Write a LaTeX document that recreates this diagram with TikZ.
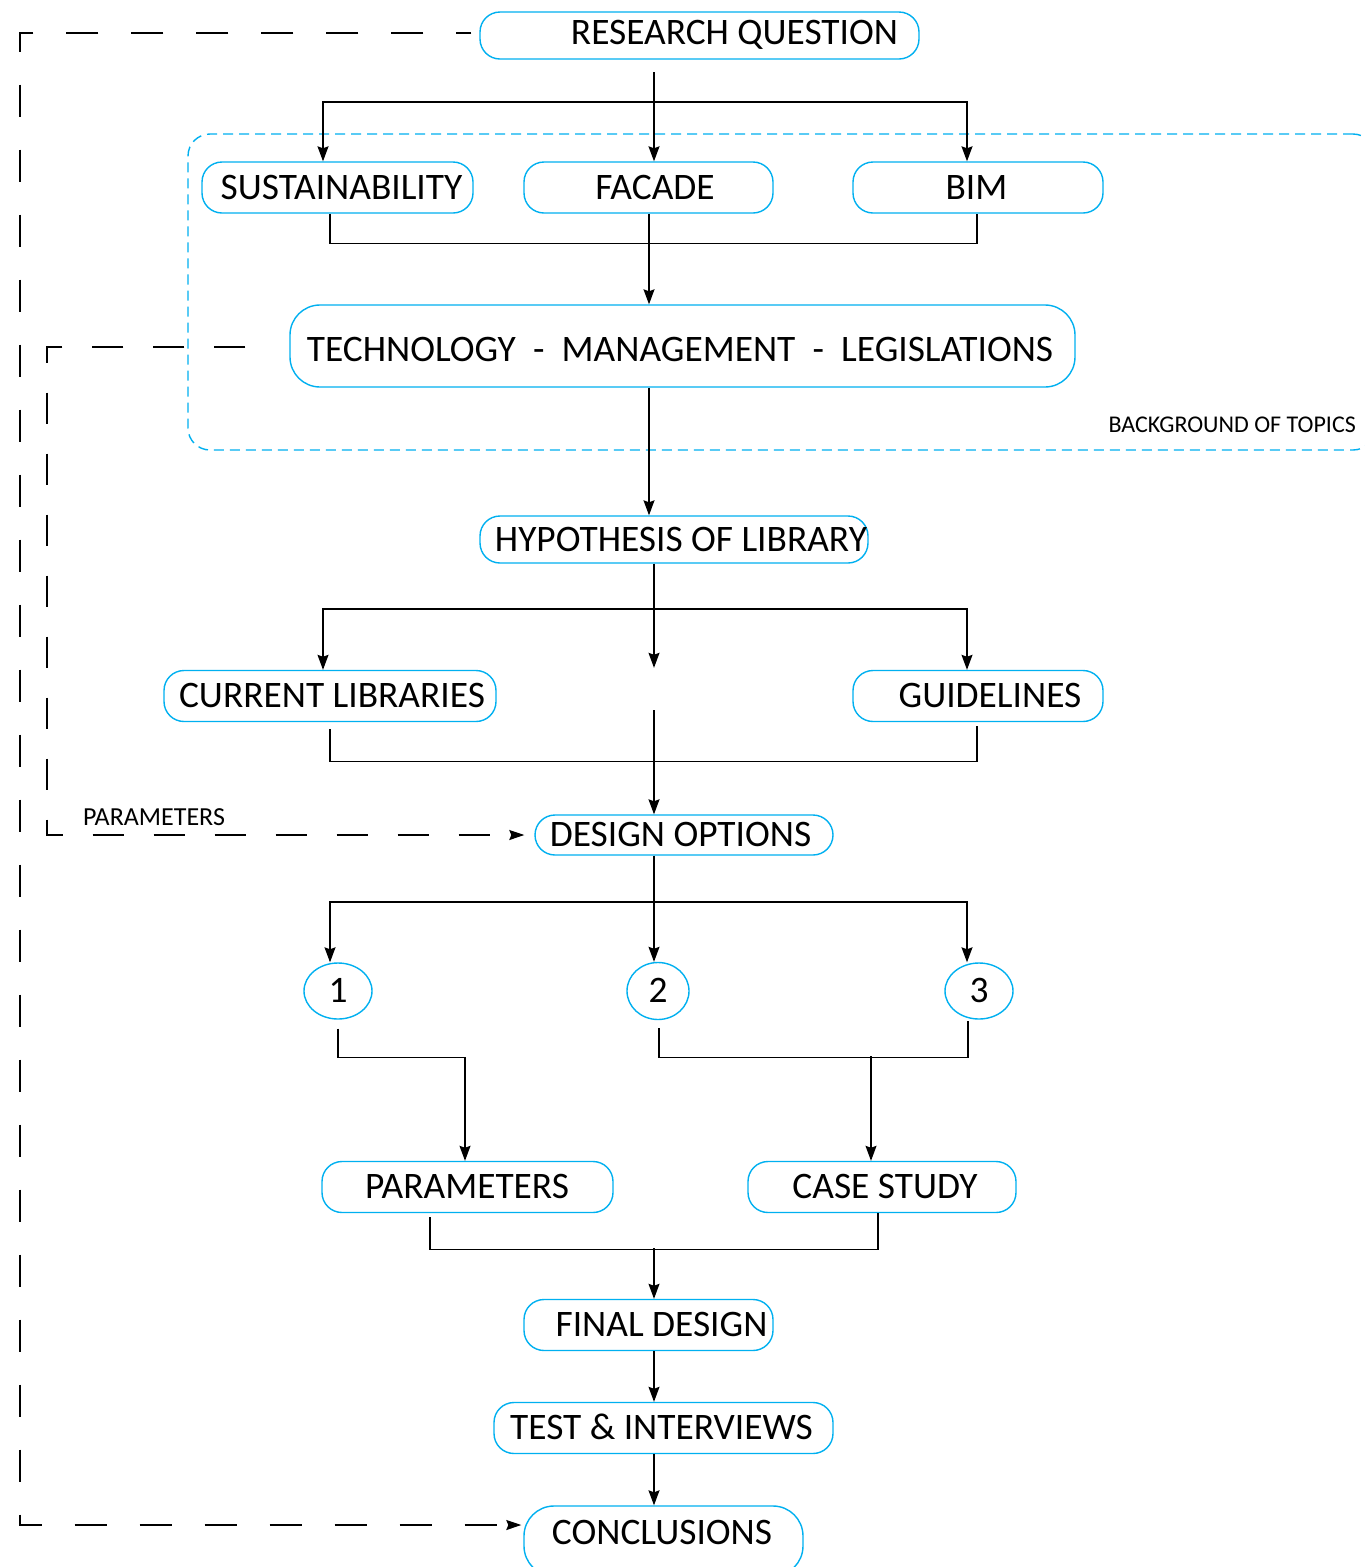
\documentclass[tikz,border=0pt]{standalone}
\usepackage{fontspec}
\setmainfont{Carlito}
\usetikzlibrary{arrows.meta,shapes.geometric,calc}
\definecolor{boxblue}{RGB}{0,176,240}
% label centred in its box, moved right by half of #1 and raised by #2
\newcommand{\offtext}[3]{\makebox[0pt][c]{\hspace*{#1pt}\raisebox{#2pt}{#3}}}
\begin{document}
\begin{tikzpicture}[x=1pt,y=-1pt,
  big/.style={font=\fontsize{37.4}{40}\selectfont, text height=23.5pt, text depth=0pt},
  box/.style={big, draw=boxblue, line width=1.4pt, rounded corners=20pt, inner sep=0pt},
  num/.style={big, draw=boxblue, ellipse, line width=1.4pt, inner sep=0pt},
  link/.style={line width=1.3pt, draw=black},
  arr/.style={link, -{Stealth[length=15pt,width=11pt,inset=2pt]}},
  loop/.style={line width=1.5pt, -{Stealth[length=15pt,width=10pt,inset=2pt]}},
  note/.style={inner sep=0pt}
]
\fill[white] (0,0) rectangle (1365,1567);
\useasboundingbox (0,0) rectangle (1365,1567);

% frame around the topic boxes
\node[draw=boxblue, line width=1.4pt, dash pattern=on 10pt off 6pt, rounded corners=22pt,
      minimum width=1187pt, minimum height=316pt, inner sep=0pt] (topics) at (781.5,292) {};
\node[note, font=\fontsize{24}{26}\selectfont, anchor=base east] (bglbl) at (1356,432) {BACKGROUND OF TOPICS};

% boxes
\node[box, minimum width=439pt, minimum height=47pt] (rq)  at (699.5,35.5) {\offtext{70}{3}{RESEARCH QUESTION}};
\node[box, minimum width=271pt, minimum height=51pt] (sus) at (337.5,187.5) {\offtext{8}{0}{SUSTAINABILITY}};
\node[box, minimum width=249pt, minimum height=51pt] (fac) at (648.5,187.5) {\offtext{13}{0}{FACADE}};
\node[box, minimum width=250pt, minimum height=51pt] (bim) at (978,187.5) {\offtext{-3}{0}{BIM}};
\node[box, rounded corners=30pt, minimum width=785pt, minimum height=82pt] (tech) at (682.5,346)
     {\offtext{-5}{-4}{TECHNOLOGY\hspace{0.46em}-\hspace{0.46em}MANAGEMENT\hspace{0.46em}-\hspace{0.46em}LEGISLATIONS}};
\node[box, minimum width=388pt, minimum height=47pt] (hyp) at (674,539.5) {\offtext{14}{0}{HYPOTHESIS OF LIBRARY}};
\node[box, minimum width=332pt, minimum height=51pt] (cur) at (330,696) {\offtext{4}{0}{CURRENT LIBRARIES}};
\node[box, minimum width=250pt, minimum height=51pt] (gui) at (978,696) {\offtext{24}{0}{GUIDELINES}};
\node[minimum width=2pt, minimum height=42pt, inner sep=0pt] (gap) at (654,689) {};
\node[box, minimum width=298pt, minimum height=40pt] (des) at (684,835) {\offtext{-7}{0}{DESIGN OPTIONS}};
\node[num, minimum width=68pt, minimum height=56pt] (n1) at (338,991) {1};
\node[num, minimum width=62pt, minimum height=57pt] (n2) at (658,991) {2};
\node[num, minimum width=68pt, minimum height=56pt] (n3) at (979,991) {3};
\node[box, minimum width=291pt, minimum height=51pt] (par) at (467.5,1187) {\offtext{-1}{0}{PARAMETERS}};
\node[box, minimum width=268pt, minimum height=51pt] (cas) at (882,1187) {\offtext{6}{0}{CASE STUDY}};
\node[box, minimum width=249pt, minimum height=51pt] (fin) at (648.5,1325) {\offtext{26}{0}{FINAL DESIGN}};
\node[box, minimum width=339pt, minimum height=51pt] (tst) at (663.5,1428) {\offtext{-4}{0}{TEST \& INTERVIEWS}};
\node[box, rounded corners=30pt, minimum width=279pt, minimum height=70pt] (con) at (663.5,1541) {\offtext{-3}{8}{CONCLUSIONS}};

% research question -> topics
\coordinate (rqo) at (654,72);
\coordinate (rqbar) at (654,102);
\draw[arr] (rqo) -- (rqo |- fac.north);
\draw[arr] (rqbar) -| ($(sus.north)+(-14.5,0)$);
\draw[arr] (rqbar) -| ($(bim.north)+(-11,0)$);

% topics -> technology / management / legislations
\draw[link] ($(sus.south)+(-7.5,0)$) -- ++(0,30) -| ($(bim.south)+(-1,0)$);
\coordinate (facb) at ($(fac.south)+(0.5,0)$);
\draw[arr] (facb) -- (facb |- tech.north);

% -> hypothesis
\coordinate (techb) at (tech.south -| facb);
\draw[arr] (techb) -- (techb |- hyp.north);

% hypothesis -> libraries, guidelines
\coordinate (hypb) at (hyp.south -| gap);
\draw[arr] (hypb) -- (gap.north);
\coordinate (hypbar) at (654,609);
\draw[arr] (hypbar) -| ($(cur.north)+(-7,0)$);
\draw[arr] (hypbar) -| ($(gui.north)+(-11,0)$);

% -> design options
\draw[arr] (gap.south) -- (gap.south |- des.north);
\draw[link] ($(cur.south)+(0,7)$) -- ++(0,32) -| ($(gui.south)+(-1,4)$);

% design options -> options 1, 2, 3
\coordinate (desb) at (des.south -| gap);
\draw[arr] (desb) -- (desb |- n2.north);
\coordinate (desbar) at (654,902);
\draw[arr] (desbar) -| ($(n1.north)+(-8,0)$);
\draw[arr] (desbar) -| ($(n3.north)+(-12,0)$);

% options -> parameters, case study
\draw[arr] ($(n1.south)+(0,9)$) -- ++(0,29) -| ($(par.north)+(-2.5,0)$);
\draw[link] ($(n2.south)+(1,8)$) -- ++(0,29) -| ($(n3.south)+(-11,1)$);
\coordinate (nbar) at (871,1056);
\draw[arr] (nbar) -- (nbar |- cas.north);

% -> final design -> tests -> conclusions
\draw[link] ($(par.south)+(-37.5,4)$) -- ++(0,32) -| ($(cas.south)+(-4,0)$);
\coordinate (pcbar) at (654,1248);
\draw[arr] (pcbar) -- (pcbar |- fin.north);
\coordinate (finb) at (fin.south -| pcbar);
\draw[arr] (finb) -- (finb |- tst.north);
\coordinate (tstb) at (tst.south -| pcbar);
\draw[arr] (tstb) -- (tstb |- con.north);

% feedback loops
\coordinate (outA) at ($(rq.west)+(-8,-2.5)$);
\coordinate (outC) at (20,33);
\draw[loop, dash pattern=on 32pt off 33pt, dash phase=17pt] (outA) -- (outC) |- ($(con.west)+(-2,-16)$);
\coordinate (inA) at ($(tech.west)+(-30,1)$);
\coordinate (inC) at (47,347);
\draw[loop, dash pattern=on 31pt off 30pt, dash phase=47pt] (inA) -- (inC) |- ($(des.west)+(-10,0)$);
\node[note, font=\fontsize{26}{28}\selectfont, anchor=base west] (parlbl) at (83,825) {PARAMETERS};
\end{tikzpicture}
\end{document}
